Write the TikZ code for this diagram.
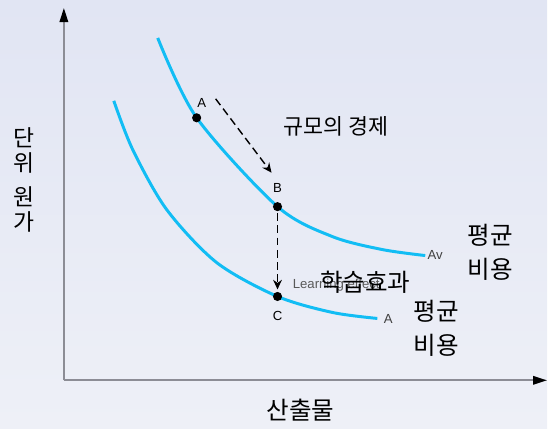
\documentclass[tikz,border=0pt]{standalone}
\usepackage{fontspec}
\setmainfont{Liberation Sans}
\newfontfamily\kr{Noto Sans CJK KR}
\usetikzlibrary{arrows.meta}
\definecolor{curveblue}{HTML}{12BDF4}
\definecolor{axisgray}{HTML}{8C8D95}
\definecolor{bgtop}{HTML}{E1E5F3}
\definecolor{bgbottom}{HTML}{EEF0F7}

\begin{document}
\begin{tikzpicture}[x=0.02cm, y=-0.02cm,
  every node/.style={inner sep=0pt},
  axis/.style={draw=axisgray, line width=1.1pt, -{Triangle[length=8pt,width=4.8pt,color=black]}},
  cost/.style={draw=curveblue, line width=1.7pt},
  move/.style={dash pattern=on 4.5pt off 2.5pt, line width=0.8pt, -{Stealth[length=5.5pt,width=5pt]}},
  dot/.style={circle, fill=black, minimum size=5.2pt},
  pt/.style={font=\fontsize{7.5}{9}\selectfont},
  kor/.style={font=\kr\fontsize{14}{19.4}\selectfont, align=center}]
  \shade[top color=bgtop, bottom color=bgbottom] (0,0) rectangle (548,429);
  % axes
  \coordinate (origin) at (64,381);
  \coordinate (ytop) at (64,8);
  \coordinate (xend) at (548,381);
  \draw[axis] (origin) -- (ytop);
  \draw[axis] (origin) -- (xend);
  % average cost curves
  \draw[cost] plot[smooth] coordinates {(158,38) (197,118) (278,207) (333,237) (383,250) (426,256)};
  \draw[cost] plot[smooth] coordinates {(114,101) (133,150) (167,210) (217,263) (278,297) (333,313) (378,319)};
  \foreach \name/\x/\y in {A/197/118, B/278/207, C/278/297}
    \node[dot] (\name) at (\x,\y) {};
  \foreach \name/\x/\y in {A/202/103, B/278/188, C/278/317}
    \node[pt] (lab\name) at (\x,\y) {\name};
  \node[pt, text=black!75] (avUp) at (436,255) {Av};
  \node[pt, text=black!75] (avLow) at (389,320) {A};
  % moves along and between the curves
  \coordinate (esStart) at (216,99);
  \coordinate (esEnd) at (272,173);
  \draw[move] (esStart) -- (esEnd);
  \draw[move, shorten <=0.8pt, shorten >=1.2pt] (B) -- (C);
  % texts
  \node[kor, font=\kr\fontsize{12.4}{14}\selectfont] (scale) at (337,127) {규모의 경제};
  \node[kor] (avgUp) at (491,253) {평균\\비용};
  \node[pt, text=black!65, anchor=west] (learnEn) at (293,286) {Learning effect};
  \node[kor] (learn) at (366,283) {학습효과};
  \node[kor] (avgLow) at (437,329) {평균\\비용};
  \node[kor, font=\kr\fontsize{13}{14.2}\selectfont] (unitA) at (24,151) {단\\위};
  \node[kor, font=\kr\fontsize{13}{14.2}\selectfont] (unitB) at (24,210) {원\\가};
  \node[kor] (output) at (301,411) {산출물};
\end{tikzpicture}
\end{document}
